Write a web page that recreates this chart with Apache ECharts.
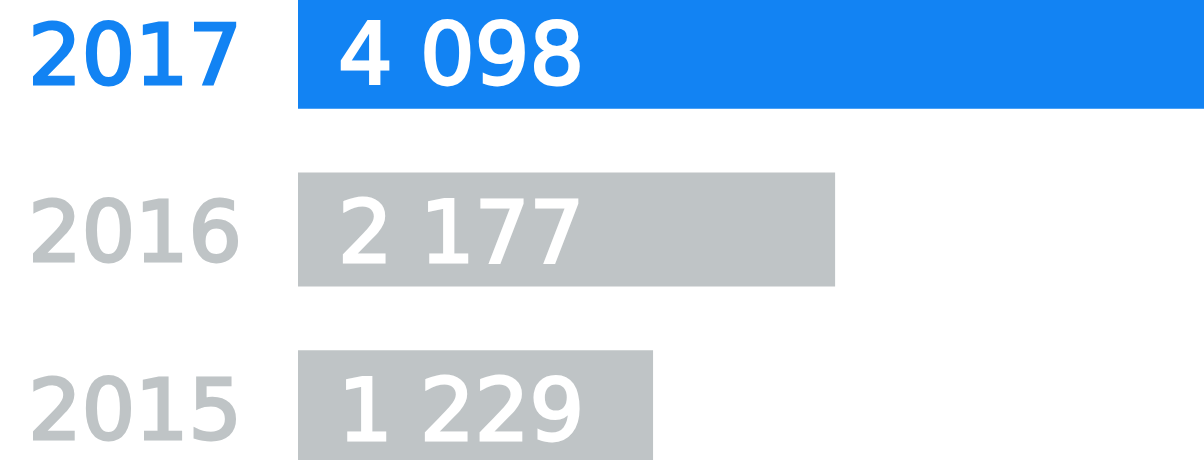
<!DOCTYPE html>
<html>
<head>
<meta charset="utf-8">
<script src="https://cdn.jsdelivr.net/npm/echarts@6/dist/echarts.min.js"></script>
<style>
  html, body { margin: 0; padding: 0; background: #ffffff; overflow: hidden; width: 1204px; height: 460px; }
  #chart { width: 1204px; height: 533px; margin-top: -37px; }
</style>
</head>
<body>
<div id="chart"></div>
<script>
const categories = ['2017', '2016', '2015'];
const values = [4098, 2177, 1229];
const highlightCategory = '2017';

const BLUE = '#1283F3';
const GRAY = '#BFC4C6';
const FONT = '"DejaVu Sans", sans-serif';
const STROKE = 2.8;

function fmt(v) {
  return String(v).replace(/\B(?=(\d{3})+(?!\d))/g, ' ');
}

function yearStyle(c) {
  return {
    color: c, textBorderColor: c, textBorderWidth: STROKE,
    fontFamily: FONT, fontWeight: 'normal', fontSize: 84, lineHeight: 84
  };
}

const chart = echarts.init(document.getElementById('chart'), null, { renderer: 'canvas' });
chart.setOption({
  animation: false,
  backgroundColor: '#ffffff',
  grid: { left: 298, right: 0, top: 0, bottom: 0, containLabel: false },
  xAxis: {
    type: 'value',
    min: -620,
    max: 4098,
    startValue: -620,
    show: false,
    splitLine: { show: false }
  },
  yAxis: {
    type: 'category',
    data: categories,
    inverse: true,
    axisLine: { show: false },
    axisTick: { show: false },
    splitLine: { show: false },
    axisLabel: {
      margin: 56,
      formatter: function (v) {
        return '{sp| }\n{' + (v === highlightCategory ? 'hl' : 'n') + '|' + v + '}';
      },
      rich: {
        sp: { fontSize: 1, lineHeight: 20 },
        hl: yearStyle(BLUE),
        n: yearStyle(GRAY)
      }
    }
  },
  series: [{
    type: 'bar',
    barWidth: 114,
    data: values.map(function (v, i) {
      return { value: v, itemStyle: { color: categories[i] === highlightCategory ? BLUE : GRAY } };
    }),
    label: {
      show: true,
      position: 'insideLeft',
      distance: 40,
      offset: [0, 10],
      color: '#ffffff',
      textBorderColor: '#ffffff',
      textBorderWidth: STROKE,
      fontFamily: FONT,
      fontWeight: 'normal',
      fontSize: 86,
      formatter: function (p) { return fmt(p.value); }
    }
  }]
});
</script>
</body>
</html>
